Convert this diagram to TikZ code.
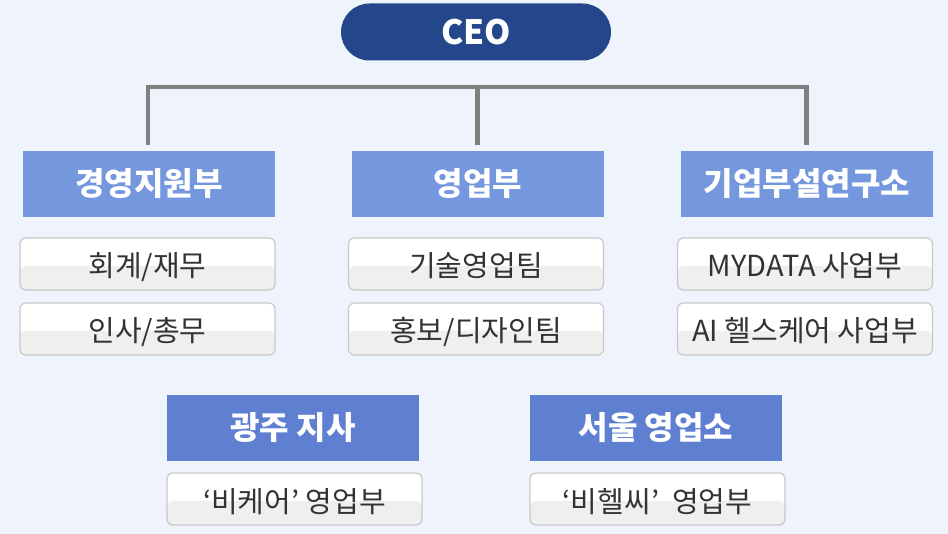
\documentclass[tikz,border=0pt]{standalone}
\usepackage{fontspec}
\setmainfont{Noto Sans CJK KR}
\definecolor{bgc}{HTML}{EFF3FB}
\definecolor{ceoc}{HTML}{23478A}
\definecolor{deptc}{HTML}{7497DE}
\definecolor{branchc}{HTML}{5F7FD0}
\definecolor{linec}{HTML}{808080}
\definecolor{subline}{HTML}{C8C8C8}
\definecolor{subgray}{HTML}{EFEFEF}
\definecolor{subtext}{HTML}{333333}
\tikzset{
  ceobox/.style={rectangle, rounded corners=28.5pt, fill=ceoc, minimum width=270pt, minimum height=57pt, inner sep=0pt,
    text=white, font=\fontsize{33.5}{38}\selectfont\bfseries},
  deptbox/.style={rectangle, fill=deptc, minimum width=252pt, minimum height=66pt, inner sep=0pt,
    text=white, font=\fontsize{32}{36}\selectfont\bfseries},
  branchbox/.style={deptbox, fill=branchc},
  subbox/.style={rectangle, rounded corners=6pt, draw=subline, line width=1.2pt, fill=white,
    minimum width=255pt, minimum height=52pt, inner sep=0pt, text=subtext,
    text height=26pt, text depth=0pt,
    font=\fontsize{29}{32}\selectfont,
    path picture={\fill[subgray] ([yshift=-2pt]path picture bounding box.west) rectangle (path picture bounding box.south east);}},
  conn/.style={draw=linec, line width=4.5pt}
}
\begin{document}
\begin{tikzpicture}[x=1pt,y=-1pt]
\fill[bgc] (0,0) rectangle (948,534);
\useasboundingbox (0,0) rectangle (948,534);

\node[ceobox] (ceo) at (476,32) {CEO};

\node[deptbox] (d1) at (149,184) {경영지원부};
\node[deptbox] (d2) at (478,184) {영업부};
\node[deptbox] (d3) at (807,184) {기업부설연구소};

\node[subbox] (s11) at (147.5,264) {회계/재무};
\node[subbox] (s12) at (147.5,329) {인사/총무};
\node[subbox] (s21) at (476,264) {기술영업팀};
\node[subbox] (s22) at (476,329) {홍보/디자인팀};
\node[subbox] (s31) at (805,264) {MYDATA 사업부};
\node[subbox] (s32) at (805,329) {AI 헬스케어 사업부};

\node[branchbox] (b1) at (293,428) {광주 지사};
\node[branchbox] (b2) at (656,428) {서울 영업소};
\node[subbox] (t1) at (294.5,499) {‘비케어’ 영업부};
\node[subbox] (t2) at (657.5,499) {‘비헬씨’\ \ 영업부};

\coordinate (bar) at (477.5,87);
\coordinate (j1) at (148,87);
\coordinate (j3) at (806.5,87);
\draw[conn, shorten <=6pt, shorten >=6pt] (d1.north -| j1) -- (j1) -- (j3) -- (d3.north -| j3);
\draw[conn, shorten >=6pt] (bar) -- (d2.north -| bar);
\end{tikzpicture}
\end{document}
